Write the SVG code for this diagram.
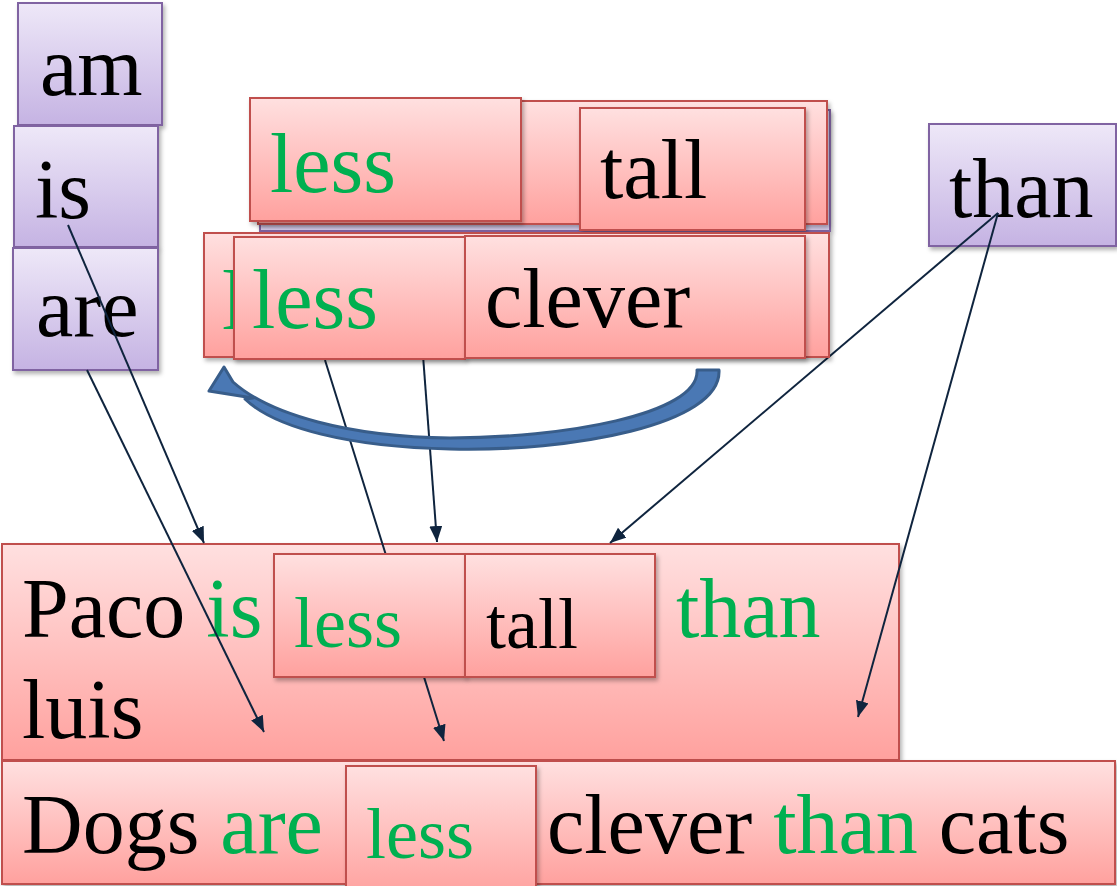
<svg xmlns="http://www.w3.org/2000/svg" width="1117" height="886" viewBox="0 0 1117 886">
<style>
.r{fill:url(#gr);stroke:#c0504d;stroke-width:2;filter:url(#sh)}
.p{fill:url(#gp);stroke:#8064a2;stroke-width:2;filter:url(#sh)}
text{font-family:"Liberation Serif","Times New Roman",serif;fill:#000}
.b{font-size:84px}
.s{font-size:72px}
.g{fill:#00b050}
.c{stroke:#0f243e;stroke-width:2;fill:none;marker-end:url(#ah)}
</style>
<defs>
<linearGradient id="gr" x1="0" y1="0" x2="0" y2="1"><stop offset="0" stop-color="#ffe0e0"/><stop offset="1" stop-color="#ffa19e"/></linearGradient>
<linearGradient id="gp" x1="0" y1="0" x2="0" y2="1"><stop offset="0" stop-color="#eee8f8"/><stop offset="1" stop-color="#c5b3e3"/></linearGradient>
<filter id="sh" x="-10%" y="-10%" width="120%" height="130%"><feDropShadow dx="2" dy="3" stdDeviation="2" flood-color="#000" flood-opacity="0.3"/></filter>
<marker id="ah" markerUnits="userSpaceOnUse" markerWidth="17" markerHeight="14" refX="16" refY="6.5" orient="auto"><path d="M0,0 L16,6.5 L0,13 Z" fill="#0f243e"/></marker>
</defs>

<g id="node-am"><rect class="p" x="18" y="3" width="144" height="122"/><text class="b" x="40" y="95">am</text></g>
<g id="node-is"><rect class="p" x="14" y="126" width="144" height="121"/><text class="b" x="35" y="218">is</text></g>
<g id="node-are"><rect class="p" x="13" y="248" width="145" height="122"/><text class="b" x="36" y="336">are</text></g>
<g id="node-than"><rect class="p" x="929" y="124" width="187" height="122"/><text class="b" x="949" y="217">than</text></g>

<g id="node-paco"><rect class="r" x="2" y="544" width="897" height="216"/>
<text class="b" x="22" y="637">Paco <tspan class="g">is</tspan></text>
<text class="b g" x="676" y="637">than</text>
<text class="b" x="22" y="738">luis</text></g>
<g id="node-dogs"><rect class="r" x="2" y="761" width="1113" height="123"/>
<text class="b" x="22" y="853">Dogs <tspan class="g">are</tspan></text>
<text class="b" x="547" y="853">clever <tspan class="g">than</tspan> cats</text></g>

<g id="connectors">
<line class="c" x1="68" y1="225" x2="204" y2="543"/>
<line class="c" x1="87" y1="370" x2="264" y2="732"/>
<line class="c" x1="413" y1="222" x2="437" y2="542"/>
<line class="c" x1="325" y1="360" x2="444" y2="741"/>
<line class="c" x1="998" y1="213" x2="610" y2="543"/>
<line class="c" x1="998" y1="213" x2="858" y2="717"/>
<path id="curved-arrow" d="M697,370 L719,370 C722,425 570,452 450,449 C350,447 275,428 245,399 L253,398 L209,391 L224,367 L233,382 C270,415 350,437 450,438 C560,438 700,415 697,370 Z" fill="#4a78b4" stroke="#385d8a" stroke-width="3" stroke-linejoin="round"/>
</g>

<g id="node-top-back"><rect x="260" y="110" width="570" height="121" fill="#d9cfee" stroke="#8064a2" stroke-width="2" filter="url(#sh)"/>
<rect class="r" x="258" y="101" width="569" height="123"/></g>
<g id="node-less-top"><rect class="r" x="250" y="98" width="271" height="123"/><text class="b g" x="270" y="192">less</text></g>
<g id="node-tall-top"><rect class="r" x="580" y="108" width="225" height="122"/><text class="b" x="600" y="198">tall</text></g>

<g id="node-low-back"><rect class="r" x="204" y="233" width="625" height="124"/><text class="b g" x="222" y="329">l</text></g>
<g id="node-less-low"><rect class="r" x="234" y="237" width="231" height="122"/><text class="b g" x="252" y="328">less</text></g>
<g id="node-clever"><rect class="r" x="465" y="236" width="340" height="122"/><text class="b" x="485" y="327">clever</text></g>

<g id="node-less-paco"><rect class="r" x="274" y="554" width="191" height="123"/><text class="s g" x="294" y="647">less</text></g>
<g id="node-tall-paco"><rect class="r" x="465" y="554" width="190" height="123"/><text class="s" x="486" y="648">tall</text></g>
<g id="node-less-dogs"><rect class="r" x="346" y="766" width="190" height="130"/><text class="s g" x="366" y="858">less</text></g>
</svg>
